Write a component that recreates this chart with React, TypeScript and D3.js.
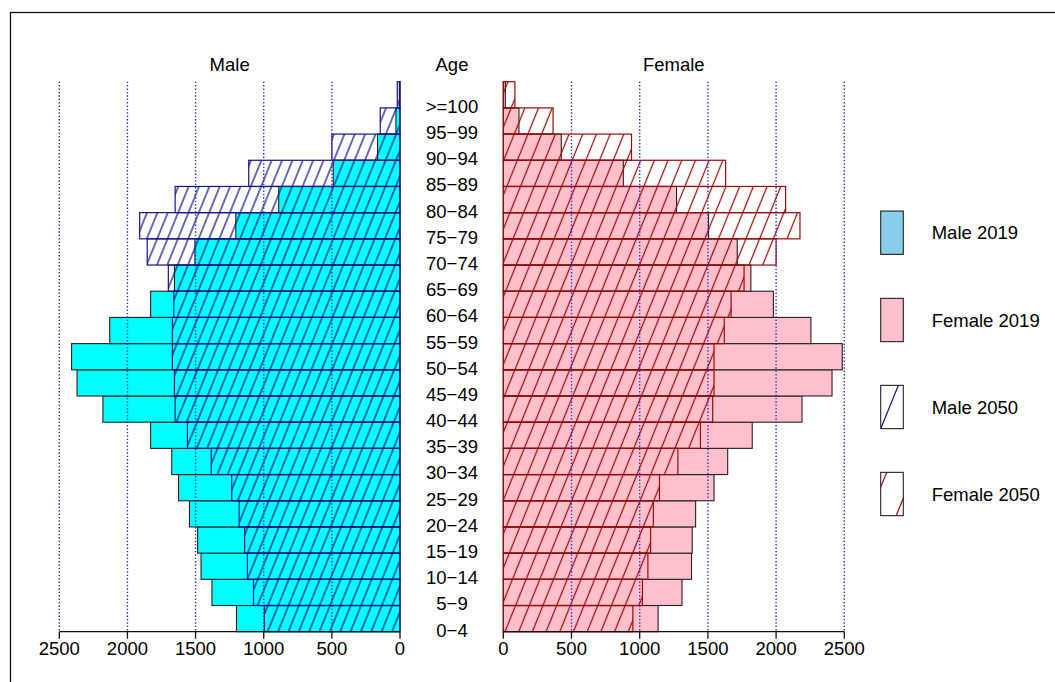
import React from "react";
import * as d3 from "d3";

const ageGroups = ["0−4","5−9","10−14","15−19","20−24","25−29","30−34","35−39","40−44","45−49","50−54","55−59","60−64","65−69","70−74","75−79","80−84","85−89","90−94","95−99",">=100"];
const male2019 = [1200,1380,1460,1485,1545,1625,1675,1830,2180,2370,2410,2130,1830,1655,1505,1205,890,490,165,30,5];
const male2050 = [995,1075,1120,1140,1180,1235,1385,1560,1650,1655,1670,1670,1660,1700,1855,1910,1650,1110,500,145,20];
const female2019 = [1135,1310,1380,1385,1410,1545,1645,1825,2190,2410,2485,2255,1980,1815,1715,1505,1270,880,425,115,15];
const female2050 = [950,1020,1060,1080,1100,1145,1280,1445,1535,1545,1545,1620,1670,1765,2000,2175,2070,1630,940,365,85];
const xTicks = [0,500,1000,1500,2000,2500];
const legendLabels = ["Male 2019","Female 2019","Male 2050","Female 2050"];

const W = 1055, H = 682;
const FONT = "'Liberation Sans', Arial, sans-serif";
const FS = 18.5;
const NAVY = "#15158a";
const DRED = "#960c0c";
const GRID = "#2f2fd0";

export default function App() {
  const xL = d3.scaleLinear().domain([0, 2500]).range([400, 59.3]);
  const xR = d3.scaleLinear().domain([0, 2500]).range([503.3, 844.3]);
  const y = d3.scaleBand<string>().domain([...ageGroups].reverse()).range([81.7, 631.7]).padding(0);
  const bw = y.bandwidth();
  const yTop = 81.7, yBot = 631.7;

  const legendCenters = [232.7, 320, 407, 494];
  const lx = 880.7, lw = 22.6, lh = 43.3;
  const slope = 2.45;

  const gridLeft = xTicks.filter(t => t > 0);
  const gridRight = xTicks.filter(t => t > 0);

  return (
    <svg width={W} height={H} style={{ position: "absolute", left: 0, top: 0, background: "#fff" }} fontFamily={FONT}>
      <defs>
        <pattern id="hatchM" patternUnits="userSpaceOnUse" width={9.6} height={20} patternTransform="rotate(22)">
          <line x1={4.8} y1={-2} x2={4.8} y2={22} stroke={NAVY} strokeWidth={1.25} />
        </pattern>
        <pattern id="hatchF" patternUnits="userSpaceOnUse" width={12.7} height={20} patternTransform="rotate(22)">
          <line x1={6.35} y1={-2} x2={6.35} y2={22} stroke={DRED} strokeWidth={1.25} />
        </pattern>
        {legendCenters.map((c, i) => (
          <clipPath id={`lclip${i}`} key={i}>
            <rect x={lx} y={c - lh / 2} width={lw} height={lh} />
          </clipPath>
        ))}
      </defs>
      <rect x={0} y={0} width={W} height={H} fill="#fff" />
      <rect x={10.5} y={12.5} width={1200} height={800} fill="none" stroke="#111" strokeWidth={1.3} />

      {/* Titles */}
      <text x={(xL(0) + xL(2500)) / 2} y={70.7} textAnchor="middle" fontSize={FS}>Male</text>
      <text x={452} y={70.7} textAnchor="middle" fontSize={FS}>Age</text>
      <text x={(xR(0) + xR(2500)) / 2} y={70.7} textAnchor="middle" fontSize={FS}>Female</text>

      {/* Male 2019 */}
      {ageGroups.map((a, i) => (
        <rect key={"m19" + i} x={xL(male2019[i])} y={y(a)!} width={xL(0) - xL(male2019[i])} height={bw} fill="#00ffff" stroke="#222" strokeWidth={1.1} />
      ))}
      {/* Male 2050 */}
      {ageGroups.map((a, i) => (
        <rect key={"m50" + i} x={xL(male2050[i])} y={y(a)!} width={xL(0) - xL(male2050[i])} height={bw} fill="url(#hatchM)" stroke={NAVY} strokeWidth={1.2} />
      ))}
      {/* Female 2019 */}
      {ageGroups.map((a, i) => (
        <rect key={"f19" + i} x={xR(0)} y={y(a)!} width={xR(female2019[i]) - xR(0)} height={bw} fill="#ffc0cb" stroke="#222" strokeWidth={1.1} />
      ))}
      {/* Female 2050 */}
      {ageGroups.map((a, i) => (
        <rect key={"f50" + i} x={xR(0)} y={y(a)!} width={xR(female2050[i]) - xR(0)} height={bw} fill="url(#hatchF)" stroke={DRED} strokeWidth={1.2} />
      ))}

      {/* Grid lines */}
      {gridLeft.map(t => (
        <line key={"gl" + t} x1={xL(t)} x2={xL(t)} y1={yTop} y2={yBot} stroke={GRID} strokeWidth={1.4} strokeDasharray="1.4 2" />
      ))}
      {gridRight.map(t => (
        <line key={"gr" + t} x1={xR(t)} x2={xR(t)} y1={yTop} y2={yBot} stroke={GRID} strokeWidth={1.4} strokeDasharray="1.4 2" />
      ))}

      {/* Age labels */}
      {ageGroups.map(a => (
        <text key={"lab" + a} x={452} y={y(a)! + bw + 4.9} textAnchor="middle" fontSize={FS}>{a}</text>
      ))}

      {/* Axes */}
      <line x1={xL(2500)} x2={xL(0)} y1={yBot} y2={yBot} stroke="#111" strokeWidth={1.3} />
      {xTicks.map(t => (
        <g key={"axl" + t}>
          <line x1={xL(t)} x2={xL(t)} y1={yBot} y2={yBot + 7} stroke="#111" strokeWidth={1.3} />
          <text x={xL(t)} y={655} textAnchor="middle" fontSize={FS}>{t}</text>
        </g>
      ))}
      <line x1={xR(0)} x2={xR(2500)} y1={yBot} y2={yBot} stroke="#111" strokeWidth={1.3} />
      {xTicks.map(t => (
        <g key={"axr" + t}>
          <line x1={xR(t)} x2={xR(t)} y1={yBot} y2={yBot + 7} stroke="#111" strokeWidth={1.3} />
          <text x={xR(t)} y={655} textAnchor="middle" fontSize={FS}>{t}</text>
        </g>
      ))}

      {/* Legend */}
      {legendLabels.map((lab, i) => {
        const c = legendCenters[i];
        const top = c - lh / 2, bot = c + lh / 2;
        const fill = i === 0 ? "#87ceeb" : i === 1 ? "#ffc0cb" : "#fff";
        const lineOffsets = i === 2 ? [0] : i === 3 ? [-11.6, 15.5] : [];
        const col = i === 2 ? NAVY : DRED;
        return (
          <g key={"leg" + i}>
            <rect x={lx} y={top} width={lw} height={lh} fill={fill} />
            <g clipPath={`url(#lclip${i})`}>
              {lineOffsets.map((o, j) => (
                <line key={j} x1={lx + o} y1={bot} x2={lx + o + lh / slope} y2={top} stroke={col} strokeWidth={1.2} />
              ))}
            </g>
            <rect x={lx} y={top} width={lw} height={lh} fill="none" stroke="#222" strokeWidth={1.1} />
            <text x={931.7} y={c} dominantBaseline="central" fontSize={FS}>{lab}</text>
          </g>
        );
      })}
    </svg>
  );
}
